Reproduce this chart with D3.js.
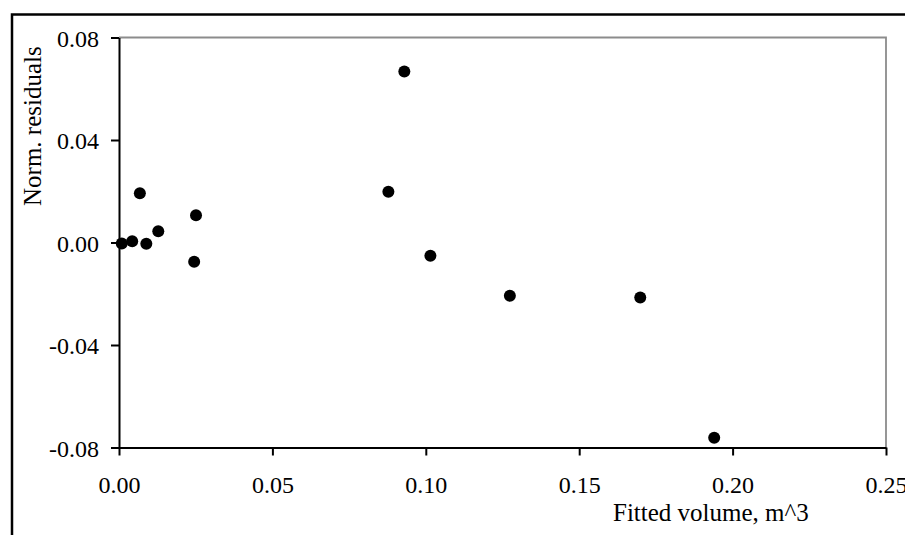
<!DOCTYPE html>
<html lang="en">
<head>
    <meta charset="UTF-8">
    <title>Norm. residuals vs fitted volume</title>
    <script src="https://d3js.org/d3.v7.min.js"></script>
    <style>
        body { margin: 0; background: #fff; }
        svg text { font-family: "Liberation Serif", "Times New Roman", serif; fill: #000; }
        .axis path, .axis line { stroke: #000; stroke-width: 2; }
        .axis text { font-size: 24px; }
    </style>
</head>
<body>
<div id="chart"></div>
<script>
    // values
    const fittedVolume = [0.0009, 0.0043, 0.0089, 0.0128, 0.0068, 0.0251, 0.0245,
                          0.0930, 0.0878, 0.1015, 0.1274, 0.1699, 0.1940];
    const normResiduals = [-0.0004, 0.0005, -0.0005, 0.0044, 0.0192, 0.0106, -0.0075,
                           0.0667, 0.0198, -0.0052, -0.0208, -0.0215, -0.0762];
    const xTicks = [0, 0.05, 0.10, 0.15, 0.20, 0.25];
    const yTicks = [-0.08, -0.04, 0, 0.04, 0.08];

    const W = 905, H = 535;
    const margin = {top: 37.5, left: 119, right: 19, bottom: 87.5};
    const width = W - margin.left - margin.right;
    const height = H - margin.top - margin.bottom;

    // plain hyphen for negatives, like the original
    const fmt = d => d3.format(".2f")(d).replace("\u2212", "-");

    const svg = d3.select("#chart").append("svg")
        .attr("width", W)
        .attr("height", H);

    // outer chart frame (runs off the right and bottom edge)
    svg.append("rect")
        .attr("x", 12).attr("y", 14.5)
        .attr("width", W + 20).attr("height", H + 20)
        .attr("fill", "none")
        .attr("stroke", "#000")
        .attr("stroke-width", 2.5);

    const g = svg.append("g")
        .attr("transform", `translate(${margin.left},${margin.top})`);

    const x = d3.scaleLinear().domain([0, 0.25]).range([0, width]);
    const y = d3.scaleLinear().domain([-0.08, 0.08]).range([height, 0]);

    // gray top/right border of plot area
    g.append("path")
        .attr("d", `M0,0H${width}V${height}`)
        .attr("fill", "none")
        .attr("stroke", "#8c8c8c")
        .attr("stroke-width", 1.8);

    // x axis
    const xAxis = g.append("g")
        .attr("class", "axis")
        .attr("transform", `translate(0,${height})`)
        .call(d3.axisBottom(x).tickValues(xTicks).tickFormat(fmt)
            .tickSizeInner(8).tickSizeOuter(0).tickPadding(20));

    // y axis
    const yAxis = g.append("g")
        .attr("class", "axis")
        .call(d3.axisLeft(y).tickValues(yTicks).tickFormat(fmt)
            .tickSizeInner(8).tickSizeOuter(0).tickPadding(12));

    [xAxis, yAxis].forEach(a => a.selectAll("text").style("fill", "#000"));
    yAxis.selectAll("text").attr("dy", "0.36em");

    // points
    g.selectAll("circle.pt")
        .data(fittedVolume.map((v, i) => [v, normResiduals[i]]))
        .enter().append("circle")
        .attr("class", "pt")
        .attr("cx", d => x(d[0]))
        .attr("cy", d => y(d[1]))
        .attr("r", 6)
        .attr("fill", "#000");

    // axis titles
    svg.append("text")
        .attr("x", 613)
        .attr("y", 521)
        .style("font-size", "25px")
        .text("Fitted volume, m^3");

    svg.append("text")
        .attr("transform", "translate(41,206) rotate(-90)")
        .style("font-size", "25px")
        .text("Norm. residuals");
</script>
</body>
</html>
